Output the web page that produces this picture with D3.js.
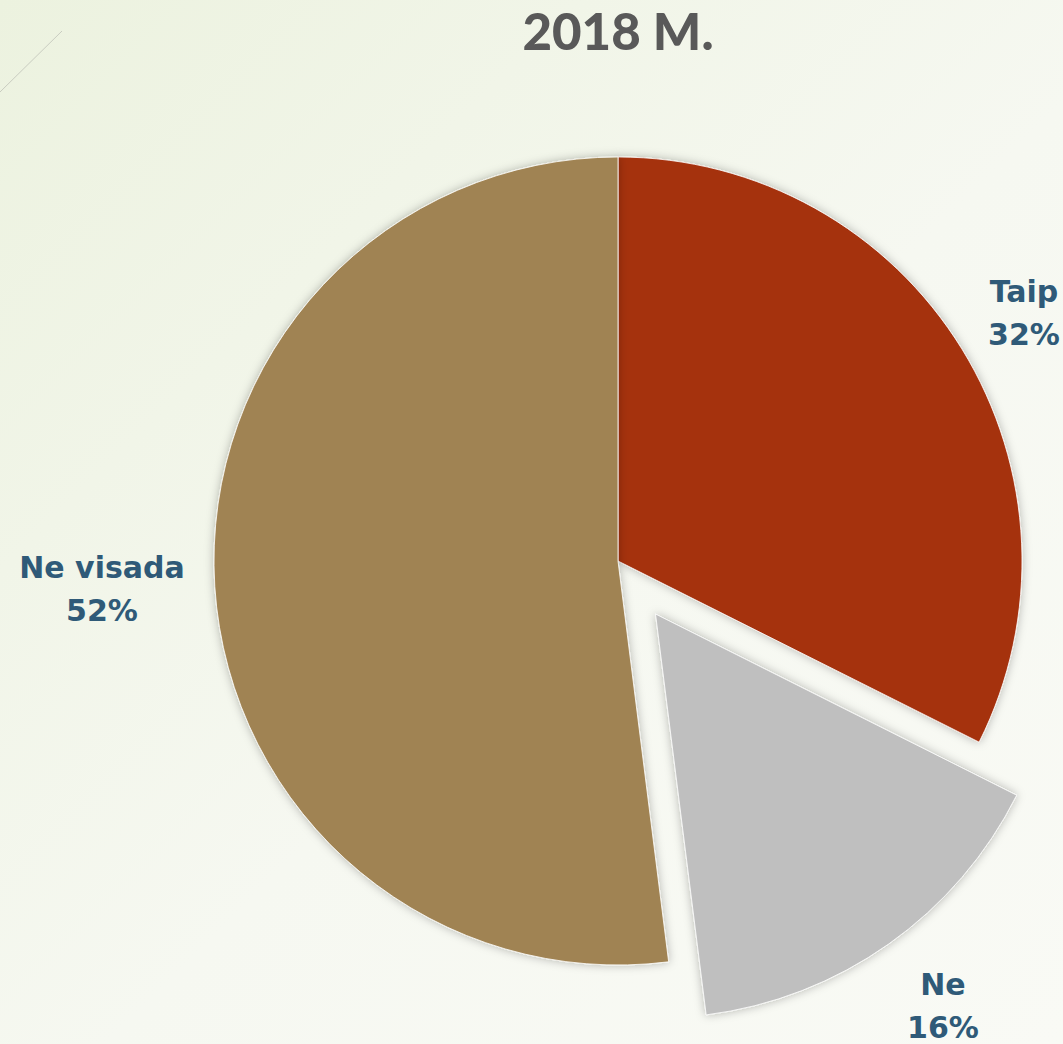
<!DOCTYPE html>
<html>
<head>
<meta charset="utf-8">
<script src="https://cdn.jsdelivr.net/npm/d3@7"></script>
<style>
  html, body { margin: 0; padding: 0; }
  body { width: 1063px; height: 1044px; overflow: hidden; }
</style>
</head>
<body>
<div id="app"></div>
<script>

var categories = ["Taip", "Ne", "Ne visada"];
var values = [32.4, 15.6, 52];
var colors = ["#a5300f", "#bfbfbf", "#a08352"];
var exploded = [0, 65, 0];
var title = "2018 M.";

var width = 1063, height = 1044;
var cx = 618, cy = 561, radius = 404;

var svg = d3.select("#app")
    .append("svg")
    .attr("width", width)
    .attr("height", height);

var defs = svg.append("defs");

var grad = defs.append("linearGradient")
    .attr("id", "bg")
    .attr("x1", "0%").attr("y1", "0%")
    .attr("x2", "100%").attr("y2", "100%");
grad.append("stop").attr("offset", "0%").attr("stop-color", "#ecf2df");
grad.append("stop").attr("offset", "55%").attr("stop-color", "#f6f8f1");
grad.append("stop").attr("offset", "100%").attr("stop-color", "#f9faf5");

var shadow = defs.append("filter")
    .attr("id", "shadow")
    .attr("x", "-20%").attr("y", "-20%")
    .attr("width", "140%").attr("height", "140%");
shadow.append("feDropShadow")
    .attr("dx", 0)
    .attr("dy", 0)
    .attr("stdDeviation", 5)
    .attr("flood-color", "#000")
    .attr("flood-opacity", 0.28);

svg.append("rect")
    .attr("width", width)
    .attr("height", height)
    .attr("fill", "url(#bg)");

// decorative line, top left
svg.append("line")
    .attr("x1", 0).attr("y1", 92)
    .attr("x2", 62).attr("y2", 31)
    .attr("stroke", "#c9ccc0")
    .attr("stroke-width", 1);

svg.append("text")
    .attr("x", cx)
    .attr("y", 50)
    .attr("text-anchor", "middle")
    .style("font-family", "Lato, 'Open Sans', sans-serif")
    .style("font-weight", 900)
    .style("font-size", "51px")
    .style("fill", "#595959")
    .text(title);

var pie = d3.pie().sort(null).value(function (d) { return d; });
var arcs = pie(values);

var arc = d3.arc().innerRadius(0).outerRadius(radius);

function offset(d, i) {
    var a = (d.startAngle + d.endAngle) / 2;
    return [Math.sin(a) * exploded[i], -Math.cos(a) * exploded[i]];
}

var g = svg.append("g")
    .attr("transform", "translate(" + cx + "," + cy + ")");

g.selectAll(".slice")
    .data(arcs)
    .enter()
    .append("path")
    .attr("class", "slice")
    .attr("transform", function (d, i) {
        var o = offset(d, i);
        return "translate(" + o[0] + "," + o[1] + ")";
    })
    .attr("d", arc)
    .attr("fill", function (d, i) { return colors[i]; })
    .attr("stroke", "#ffffff")
    .attr("stroke-width", 0.8)
    .attr("filter", "url(#shadow)");

// label positions (first-line baseline), relative to center
var labelPos = [[406, -259], [325, 434], [-516, 17]];

var labels = g.selectAll(".label")
    .data(arcs)
    .enter()
    .append("text")
    .attr("class", "label")
    .attr("text-anchor", "middle")
    .style("font-family", "'DejaVu Sans', sans-serif")
    .style("font-weight", "bold")
    .style("font-size", "30px")
    .style("fill", "#2f5a78");

labels.append("tspan")
    .attr("x", function (d, i) { return labelPos[i][0]; })
    .attr("y", function (d, i) { return labelPos[i][1]; })
    .text(function (d, i) { return categories[i]; });

labels.append("tspan")
    .attr("x", function (d, i) { return labelPos[i][0]; })
    .attr("y", function (d, i) { return labelPos[i][1] + 43; })
    .text(function (d) { return Math.round(d.data) + "%"; });

</script>
</body>
</html>
